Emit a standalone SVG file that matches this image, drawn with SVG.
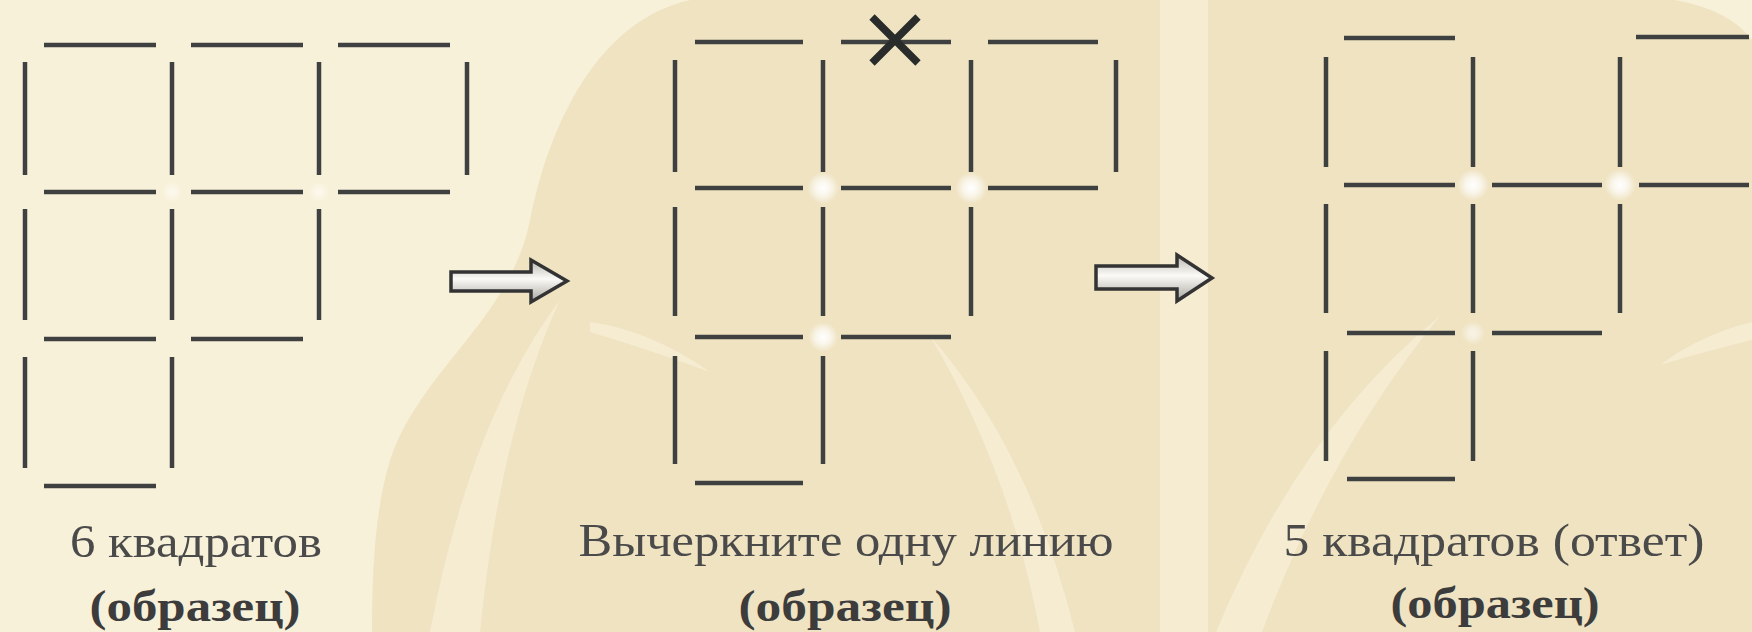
<svg xmlns="http://www.w3.org/2000/svg" width="1752" height="632" viewBox="0 0 1752 632">
<defs>
<style>
.m{stroke:#3e4140;stroke-width:4.5;stroke-linecap:butt;fill:none}
.t1{font-family:"Liberation Serif","Times New Roman",serif;font-size:46px;fill:#4a4a4a}
.t2{font-family:"Liberation Serif","Times New Roman",serif;font-size:44px;font-weight:bold;fill:#3c3c3c}
.arr{stroke:#333;stroke-width:3.5;stroke-linejoin:miter;fill:url(#shaft)}
.blade{fill:#f7efd7;opacity:0.75}
</style>
<radialGradient id="glow">
<stop offset="0" stop-color="#ffffff" stop-opacity="1"/>
<stop offset="0.45" stop-color="#ffffff" stop-opacity="0.7"/>
<stop offset="1" stop-color="#ffffff" stop-opacity="0"/>
</radialGradient>
<linearGradient id="shaft" x1="0" y1="0" x2="0" y2="1">
<stop offset="0" stop-color="#b9b6b0"/>
<stop offset="0.45" stop-color="#fbfaf6"/>
<stop offset="1" stop-color="#a9a6a0"/>
</linearGradient>
</defs>

<g id="background">
<rect x="0" y="0" width="1752" height="632" fill="#f8f1da"/>
<path d="M690 0 C600 20 550 120 530 220 C510 320 420 370 390 460 C375 510 372 570 372 632 L1160 632 L1160 0 Z" fill="#efe3c2"/>
<rect x="1160" y="0" width="48" height="632" fill="#f5ecd2"/>
<path d="M1208 0 L1675 0 Q1730 10 1752 40 L1752 632 L1208 632 Z" fill="#efe3c2"/>
<path class="blade" d="M430 632 Q470 420 560 300 Q500 430 480 632 Z"/>
<path class="blade" d="M590 322 Q650 330 710 372 Q650 350 590 332 Z"/>
<path class="blade" d="M930 336 Q1030 450 1075 632 L1040 632 Q1010 470 930 336 Z"/>
<path class="blade" d="M1216 632 Q1300 430 1440 316 Q1330 450 1262 632 Z"/>
<path class="blade" d="M1660 365 Q1700 335 1752 322 L1752 340 Q1710 350 1660 365 Z"/>
</g>

<g id="panel1">
<g class="m">
<path d="M44 45H156M191 45H303M338 45H450"/>
<path d="M25 62V175M172 62V175M319 62V175M467 62V175"/>
<path d="M44 192H156M191 192H303M338 192H450"/>
<path d="M25 209V320M172 209V320M319 209V320"/>
<path d="M44 339H156M191 339H303"/>
<path d="M25 357V468M172 357V468"/>
<path d="M44 486H156"/>
</g>
<circle cx="172" cy="192" r="10" fill="url(#glow)" opacity="0.5"/>
<circle cx="319" cy="192" r="10" fill="url(#glow)" opacity="0.5"/>
<text class="t1" x="196" y="557" text-anchor="middle" textLength="252" lengthAdjust="spacingAndGlyphs">6 квадратов</text>
<text class="t2" x="195" y="621" text-anchor="middle" textLength="211" lengthAdjust="spacingAndGlyphs">(образец)</text>
</g>

<g id="panel2">
<circle cx="823" cy="188" r="16" fill="url(#glow)"/>
<circle cx="971" cy="188" r="16" fill="url(#glow)"/>
<circle cx="823" cy="337" r="15" fill="url(#glow)"/>
<g class="m">
<path d="M695 42H803M841 42H951M988 42H1098"/>
<path d="M675 60V172M823 60V172M971 60V172M1116 60V172"/>
<path d="M695 188H803M841 188H951M988 188H1098"/>
<path d="M675 207V316M823 207V316M971 207V316"/>
<path d="M695 337H803M841 337H951"/>
<path d="M675 356V464M823 356V464"/>
<path d="M695 483H803"/>
</g>
<path d="M872 17L918 63M918 17L872 63" stroke="#2a2c2b" stroke-width="7.5" fill="none"/>
<text class="t1" x="846" y="556" text-anchor="middle" textLength="535" lengthAdjust="spacingAndGlyphs">Вычеркните одну линию</text>
<text class="t2" x="845" y="621" text-anchor="middle" textLength="213" lengthAdjust="spacingAndGlyphs">(образец)</text>
</g>

<g id="panel3">
<circle cx="1473" cy="185" r="16" fill="url(#glow)"/>
<circle cx="1620" cy="185" r="16" fill="url(#glow)"/>
<circle cx="1473" cy="333" r="12" fill="url(#glow)" opacity="0.6"/>
<g class="m">
<path d="M1344 38H1455M1636 37H1749"/>
<path d="M1326 57V167M1473 57V167M1620 57V167"/>
<path d="M1344 185H1455M1492 185H1602M1639 185H1749"/>
<path d="M1326 204V313M1473 204V313M1620 204V313"/>
<path d="M1347 333H1455M1492 333H1602"/>
<path d="M1326 351V461M1473 351V461"/>
<path d="M1347 479H1455"/>
</g>
<text class="t1" x="1494" y="556" text-anchor="middle" textLength="421" lengthAdjust="spacingAndGlyphs">5 квадратов (ответ)</text>
<text class="t2" x="1495" y="618" text-anchor="middle" textLength="209" lengthAdjust="spacingAndGlyphs">(образец)</text>
</g>

<g id="connectors">
<path class="arr" d="M451 272H531V260L567 281L531 302V291H451Z"/>
<path class="arr" d="M1096 266H1177V255L1212 278L1177 301V289H1096Z"/>
</g>
</svg>
